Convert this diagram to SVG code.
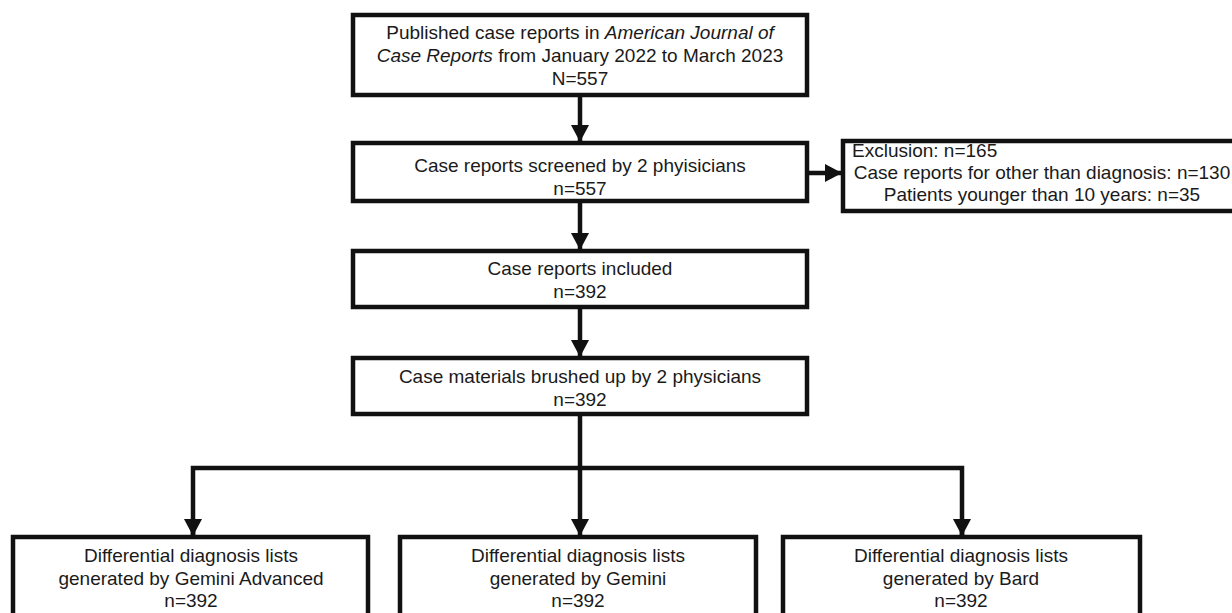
<svg xmlns="http://www.w3.org/2000/svg" width="1232" height="613" viewBox="0 0 1232 613">
  <style>
    .box { fill: #ffffff; stroke: #111111; stroke-width: 4.5; }
    .t { font-family: "Liberation Sans", Arial, sans-serif; font-size: 19px; fill: #1a1a1a; text-anchor: middle; }
    .l { text-anchor: start; }
    .i { font-style: italic; }
    .c { fill: none; stroke: #111111; stroke-width: 4.5; }
  </style>
  <defs>
    <marker id="ah" markerUnits="userSpaceOnUse" markerWidth="18" markerHeight="18" viewBox="0 0 18 18" refX="16" refY="9" orient="auto">
      <path d="M0,0 L17,9 L0,18 Z" fill="#111111"/>
    </marker>
  </defs>
  <rect width="1232" height="613" fill="#ffffff"/>

  <g id="connectors">
    <line class="c" x1="580" y1="95" x2="580" y2="141" marker-end="url(#ah)"/>
    <line class="c" x1="580" y1="201" x2="580" y2="249" marker-end="url(#ah)"/>
    <line class="c" x1="580" y1="307" x2="580" y2="356" marker-end="url(#ah)"/>
    <line class="c" x1="807" y1="173" x2="841" y2="173" marker-end="url(#ah)"/>
    <line class="c" x1="580" y1="414" x2="580" y2="535" marker-end="url(#ah)"/>
    <polyline class="c" points="193,535 193,468 962,468 962,535" />
    <line class="c" x1="193" y1="520" x2="193" y2="535" marker-end="url(#ah)"/>
    <line class="c" x1="962" y1="520" x2="962" y2="535" marker-end="url(#ah)"/>
  </g>

  <g id="n-published">
    <rect class="box" x="353" y="15" width="454" height="80"/>
    <text class="t" x="580" y="39">Published case reports in <tspan class="i">American Journal of</tspan></text>
    <text class="t" x="580" y="62"><tspan class="i">Case Reports</tspan> from January 2022 to March 2023</text>
    <text class="t" x="580" y="85">N=557</text>
  </g>

  <g id="n-screened">
    <rect class="box" x="353" y="143" width="454" height="58"/>
    <text class="t" x="580" y="172">Case reports screened by 2 phyisicians</text>
    <text class="t" x="580" y="195">n=557</text>
  </g>

  <g id="n-exclusion">
    <rect class="box" x="843" y="141" width="400" height="70"/>
    <text class="t l" x="852" y="157">Exclusion: n=165</text>
    <text class="t" x="1042" y="179">Case reports for other than diagnosis: n=130</text>
    <text class="t" x="1042" y="201">Patients younger than 10 years: n=35</text>
  </g>

  <g id="n-included">
    <rect class="box" x="353" y="251" width="454" height="56"/>
    <text class="t" x="580" y="275">Case reports included</text>
    <text class="t" x="580" y="298">n=392</text>
  </g>

  <g id="n-brushed">
    <rect class="box" x="353" y="358" width="454" height="56"/>
    <text class="t" x="580" y="383">Case materials brushed up by 2 physicians</text>
    <text class="t" x="580" y="406">n=392</text>
  </g>

  <g id="n-gemini-adv">
    <rect class="box" x="13" y="537" width="355" height="90"/>
    <text class="t" x="191" y="562">Differential diagnosis lists</text>
    <text class="t" x="191" y="585">generated by Gemini Advanced</text>
    <text class="t" x="191" y="607">n=392</text>
  </g>

  <g id="n-gemini">
    <rect class="box" x="400" y="537" width="356" height="90"/>
    <text class="t" x="578" y="562">Differential diagnosis lists</text>
    <text class="t" x="578" y="585">generated by Gemini</text>
    <text class="t" x="578" y="607">n=392</text>
  </g>

  <g id="n-bard">
    <rect class="box" x="783" y="537" width="357" height="90"/>
    <text class="t" x="961" y="562">Differential diagnosis lists</text>
    <text class="t" x="961" y="585">generated by Bard</text>
    <text class="t" x="961" y="607">n=392</text>
  </g>
</svg>
